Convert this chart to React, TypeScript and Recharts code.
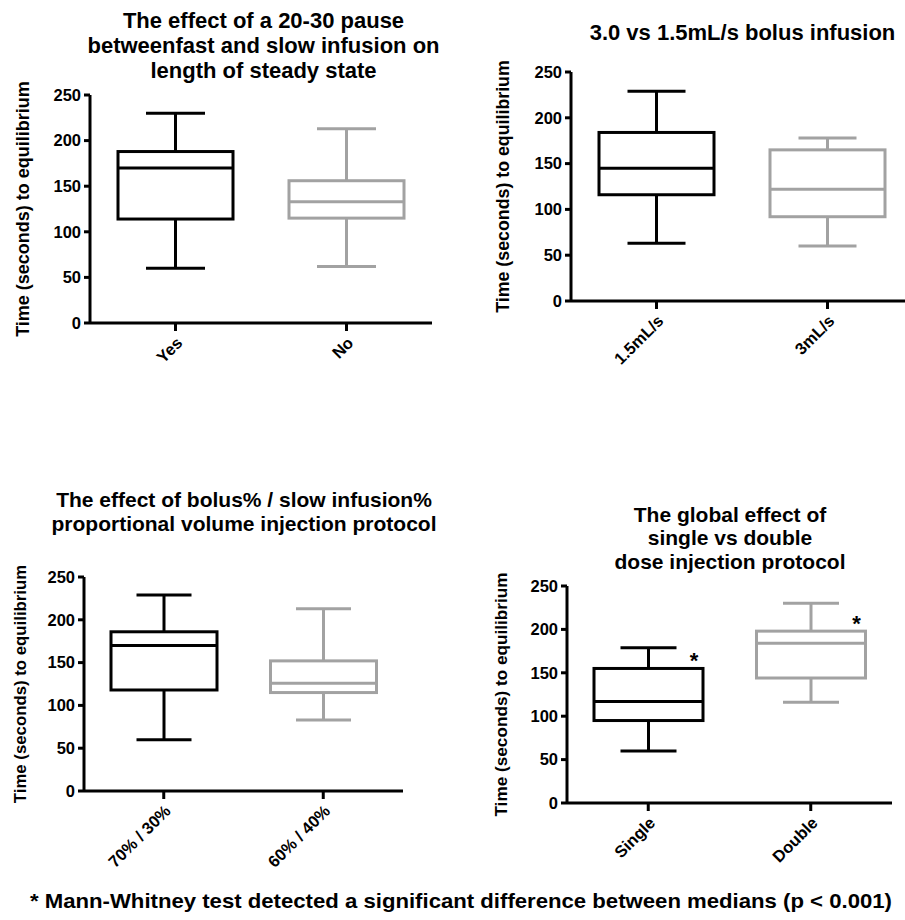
import React from 'react';
import { ComposedChart, Bar, XAxis, YAxis } from 'recharts';

// Box plot summaries (seconds to equilibrium)
const pauseGroups = ['Yes', 'No'];
const pauseMin = [60, 62];
const pauseQ1 = [114, 115];
const pauseMedian = [170, 133];
const pauseQ3 = [188, 156];
const pauseMax = [230, 213];

const rateGroups = ['1.5mL/s', '3mL/s'];
const rateMin = [63, 60];
const rateQ1 = [116, 92];
const rateMedian = [145, 122];
const rateQ3 = [184, 165];
const rateMax = [229, 178];

const ratioGroups = ['70% / 30%', '60% / 40%'];
const ratioMin = [60, 83];
const ratioQ1 = [118, 115];
const ratioMedian = [170, 126];
const ratioQ3 = [186, 152];
const ratioMax = [229, 213];

const doseGroups = ['Single', 'Double'];
const doseMin = [60, 116];
const doseQ1 = [95, 144];
const doseMedian = [117, 184];
const doseQ3 = [155, 198];
const doseMax = [179, 230];
const doseSignificant = [true, true];

const yTicks = [0, 50, 100, 150, 200, 250];

const FONT = '"Liberation Sans", Arial, Helvetica, sans-serif';
const GROUP_COLORS = ['#000000', '#a2a2a2'];
const Y_LABEL = 'Time (seconds) to equilibrium';

type Row = {
  name: string;
  range: [number, number];
  min: number;
  q1: number;
  median: number;
  q3: number;
  max: number;
  color: string;
  star: boolean;
};

const buildRows = (
  groups: string[],
  min: number[],
  q1: number[],
  median: number[],
  q3: number[],
  max: number[],
  star?: boolean[],
): Row[] =>
  groups.map((name, i) => ({
    name,
    range: [min[i], max[i]],
    min: min[i],
    q1: q1[i],
    median: median[i],
    q3: q3[i],
    max: max[i],
    color: GROUP_COLORS[i],
    star: star ? star[i] : false,
  }));

const makeBoxShape = (capWidth: number) => (props: any) => {
  const { x, y, width, height, payload } = props;
  const { min, q1, median, q3, max, color, star } = payload as Row;
  const top = Math.min(y, y + height);
  const h = Math.abs(height);
  const toY = (v: number) => top + ((max - v) / (max - min)) * h;
  const cx = x + width / 2;
  const sw = 3;
  const yMax = toY(max);
  const yQ3 = toY(q3);
  const yMed = toY(median);
  const yQ1 = toY(q1);
  const yMin = toY(min);
  return (
    <g>
      <line x1={cx} x2={cx} y1={yMax} y2={yQ3} stroke={color} strokeWidth={sw} />
      <line x1={cx} x2={cx} y1={yQ1} y2={yMin} stroke={color} strokeWidth={sw} />
      <line x1={cx - capWidth / 2} x2={cx + capWidth / 2} y1={yMax} y2={yMax} stroke={color} strokeWidth={sw} />
      <line x1={cx - capWidth / 2} x2={cx + capWidth / 2} y1={yMin} y2={yMin} stroke={color} strokeWidth={sw} />
      <rect x={x} y={yQ3} width={width} height={yQ1 - yQ3} fill="#fff" stroke={color} strokeWidth={sw} />
      <line x1={x} x2={x + width} y1={yMed} y2={yMed} stroke={color} strokeWidth={sw} />
      {star && (
        <text x={x + width - 9} y={yQ3} textAnchor="middle" fontFamily={FONT} fontWeight="bold" fontSize={22} fill="#000">
          *
        </text>
      )}
    </g>
  );
};

const SlantTick = ({ x, y, payload, fontSize }: any) => {
  const ax = x + 8;
  const ay = y + 11;
  return (
    <text
      x={ax}
      y={ay}
      transform={`rotate(-45, ${ax}, ${ay})`}
      textAnchor="end"
      fontFamily={FONT}
      fontWeight="bold"
      fontSize={fontSize}
      fill="#000"
    >
      {payload.value}
    </text>
  );
};

type PanelProps = {
  rows: Row[];
  left: number;
  top: number;
  width: number;
  height: number;
  yAxisWidth: number;
  margin: { top: number; right: number; bottom: number };
  boxWidth: number;
  capWidth: number;
  labelX: number;
  labelSize: number;
};

function BoxPanel(p: PanelProps) {
  const axisStyle = { stroke: '#000', strokeWidth: 3 };
  return (
    <div style={{ position: 'absolute', left: p.left, top: p.top }}>
      <ComposedChart
        width={p.width}
        height={p.height}
        data={p.rows}
        margin={{ top: p.margin.top, right: p.margin.right, bottom: p.margin.bottom, left: 0 }}
      >
        <XAxis
          dataKey="name"
          type="category"
          height={70}
          tickSize={8}
          axisLine={axisStyle}
          tickLine={axisStyle}
          interval={0}
          tick={<SlantTick fontSize={16.5} />}
        />
        <YAxis
          type="number"
          domain={[0, 250]}
          ticks={yTicks}
          interval={0}
          width={p.yAxisWidth}
          tickSize={6}
          tickMargin={3}
          axisLine={axisStyle}
          tickLine={axisStyle}
          tick={{ fill: '#000', fontSize: 16.5, fontWeight: 'bold', fontFamily: FONT }}
          label={(lp: any) => {
            const vb = lp.viewBox;
            const cx = vb.x + p.labelX;
            const cy = vb.y + vb.height / 2;
            return (
              <text
                x={cx}
                y={cy}
                transform={`rotate(-90, ${cx}, ${cy})`}
                textAnchor="middle"
                dominantBaseline="central"
                fontFamily={FONT}
                fontWeight="bold"
                fontSize={p.labelSize}
                fill="#000"
              >
                {Y_LABEL}
              </text>
            );
          }}
        />
        <Bar dataKey="range" barSize={p.boxWidth} isAnimationActive={false} shape={makeBoxShape(p.capWidth)} />
      </ComposedChart>
    </div>
  );
}

const titleStyle = { fontFamily: FONT, fontWeight: 'bold' as const, fill: '#000' };

export default function App() {
  const pauseRows = buildRows(pauseGroups, pauseMin, pauseQ1, pauseMedian, pauseQ3, pauseMax);
  const rateRows = buildRows(rateGroups, rateMin, rateQ1, rateMedian, rateQ3, rateMax);
  const ratioRows = buildRows(ratioGroups, ratioMin, ratioQ1, ratioMedian, ratioQ3, ratioMax);
  const doseRows = buildRows(doseGroups, doseMin, doseQ1, doseMedian, doseQ3, doseMax, doseSignificant);

  return (
    <div style={{ position: 'absolute', left: 0, top: 0, width: 905, height: 920, overflow: 'hidden', background: '#fff' }}>
      <svg width={905} height={920} style={{ position: 'absolute', left: 0, top: 0 }}>
        <g {...titleStyle} fontSize={22} textAnchor="middle">
          <text x={263.5} y={28}>The effect of a 20-30 pause</text>
          <text x={263.5} y={53}>betweenfast and slow infusion on</text>
          <text x={263.5} y={78}>length of steady state</text>
          <text x={742.5} y={40}>3.0 vs 1.5mL/s bolus infusion</text>
        </g>
        <g {...titleStyle} fontSize={21} textAnchor="middle">
          <text x={244} y={507}>The effect of bolus% / slow infusion%</text>
          <text x={244} y={530.5}>proportional volume injection protocol</text>
          <text x={730} y={521.5}>The global effect of</text>
          <text x={730} y={545}>single vs double</text>
          <text x={730} y={568.5}>dose injection protocol</text>
        </g>
        <text
          x={30}
          y={908}
          fontFamily={'"Liberation Sans Narrow", ' + FONT}
          fontWeight="bold"
          fontSize={21}
          textLength={862}
          lengthAdjust="spacingAndGlyphs"
          fill="#000"
        >
          * Mann-Whitney test detected a significant difference between medians (p &lt; 0.001)
        </text>
      </svg>

      <BoxPanel
        rows={pauseRows}
        left={0}
        top={0}
        width={450}
        height={400}
        yAxisWidth={90}
        margin={{ top: 95, right: 18, bottom: 7 }}
        boxWidth={115}
        capWidth={59}
        labelX={22.5}
        labelSize={18}
      />
      <BoxPanel
        rows={rateRows}
        left={450}
        top={0}
        width={463}
        height={400}
        yAxisWidth={121}
        margin={{ top: 72, right: 0, bottom: 29 }}
        boxWidth={115}
        capWidth={58}
        labelX={52.5}
        labelSize={17.8}
      />
      <BoxPanel
        rows={ratioRows}
        left={0}
        top={450}
        width={450}
        height={470}
        yAxisWidth={84}
        margin={{ top: 127, right: 47, bottom: 59 }}
        boxWidth={106}
        capWidth={55}
        labelX={20}
        labelSize={16.8}
      />
      <BoxPanel
        rows={doseRows}
        left={450}
        top={450}
        width={455}
        height={470}
        yAxisWidth={117}
        margin={{ top: 136, right: 13, bottom: 47 }}
        boxWidth={109}
        capWidth={56}
        labelX={51}
        labelSize={17.2}
      />
    </div>
  );
}
